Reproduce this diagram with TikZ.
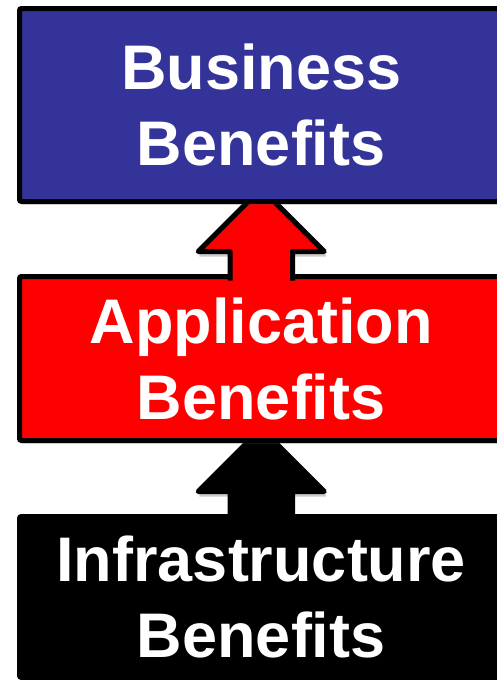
\documentclass[tikz,border=0pt]{standalone}
\usepackage{fontspec}
\setmainfont{Liberation Sans}
\usetikzlibrary{calc,shadows}
\definecolor{bizblue}{RGB}{51,51,153}
\definecolor{appred}{RGB}{255,0,0}
\tikzset{
  boxshadow/.style={drop shadow={opacity=0.25,shadow xshift=1pt,shadow yshift=-3pt}},
  layerbox/.style={rectangle, draw=black, line width=5pt, rounded corners=2pt,
    inner sep=0pt, outer sep=0pt, minimum width=483.5pt, text=white, align=center,
    font=\bfseries\fontsize{63}{76}\selectfont, boxshadow},
  blockarrow/.style={draw=black, line width=5pt, line join=round},
  headshadow/.style={fill=black, opacity=0.2},
}
\begin{document}
\begin{tikzpicture}[x=1pt,y=1pt]
\useasboundingbox (0,0) rectangle (496,-680);
% bottom layer
\node[layerbox, fill=black, minimum height=161pt] (infra) at (261.25,-597) {Infrastructure\\Benefits};
\fill[headshadow] ($(infra.north)+(-62,20)$) -- ($(infra.north)+(65,20)$) -- ($(infra.north)+(64,23)$) -- ($(infra.north)+(-62,23)$) -- cycle;
\draw[blockarrow, fill=black]
  ($(infra.north)+(-31.25,-4)$) -- ($(infra.north)+(-31.25,25)$) -- ($(infra.north)+(-63,25)$)
  -- ($(infra.north)+(0,88)$) -- ($(infra.north)+(63,25)$) -- ($(infra.north)+(31.25,25)$)
  -- ($(infra.north)+(31.25,-4)$);
% middle layer
\node[layerbox, fill=appred, minimum height=164pt] (app) at (261.25,-358.5) {Application\\Benefits};
\fill[headshadow] ($(app.north)+(-62,20)$) -- ($(app.north)+(65,20)$) -- ($(app.north)+(64,23)$) -- ($(app.north)+(-62,23)$) -- cycle;
\draw[blockarrow, fill=appred]
  ($(app.north)+(-31.25,-4)$) -- ($(app.north)+(-31.25,25)$) -- ($(app.north)+(-63,25)$)
  -- ($(app.north)+(0,88)$) -- ($(app.north)+(63,25)$) -- ($(app.north)+(31.25,25)$)
  -- ($(app.north)+(31.25,-4)$);
% top layer
\node[layerbox, fill=bizblue, minimum height=193pt] (biz) at (261.25,-105) {Business\\Benefits};
\end{tikzpicture}
\end{document}
